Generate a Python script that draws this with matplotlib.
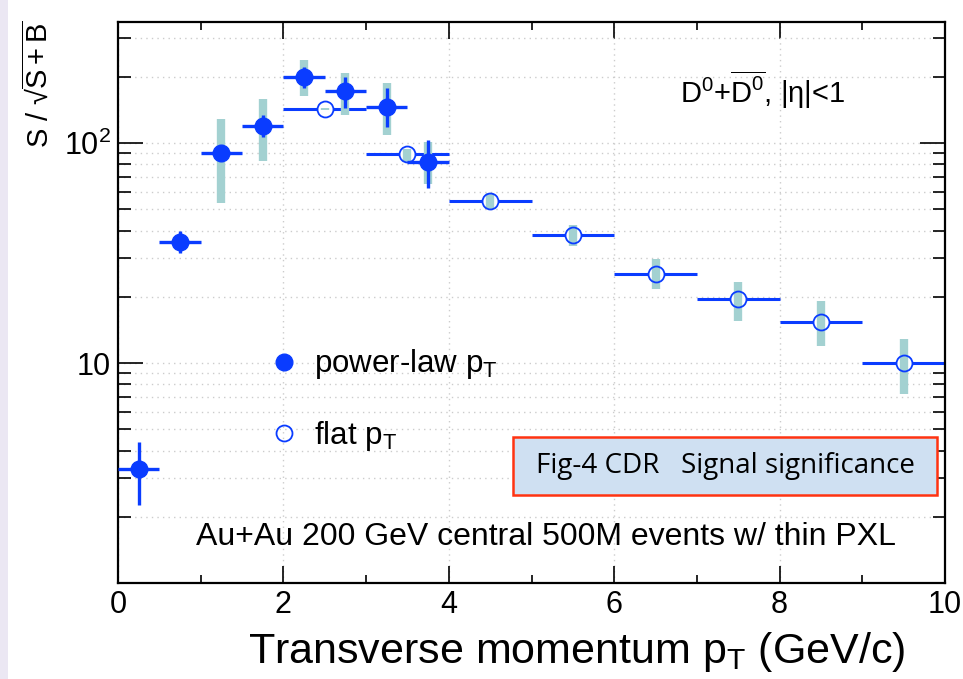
import matplotlib
matplotlib.use("Agg")
import matplotlib.pyplot as plt
import numpy as np
from matplotlib.patches import Rectangle
from matplotlib.ticker import FixedLocator, NullFormatter

plt.rcParams['font.family'] = ['Liberation Sans', 'DejaVu Sans']
plt.rcParams['mathtext.fontset'] = 'custom'
plt.rcParams['mathtext.rm'] = 'Liberation Sans'
plt.rcParams['mathtext.it'] = 'Liberation Sans:italic'
plt.rcParams['mathtext.bf'] = 'Liberation Sans:bold'

# ---------------- data ----------------
# power-law pT (filled)
pl_x = [0.25, 0.75, 1.25, 1.75, 2.25, 2.75, 3.25, 3.75]
pl_y = [3.3, 35.6, 89.8, 119.5, 200, 172, 146, 82.2]
pl_stat_lo = [2.26, 31.6, 84, 107, 177, 144, 118, 62.2]
pl_stat_hi = [4.39, 40.0, 95, 134, 222, 199, 177, 103]
pl_sys_lo = [np.nan, np.nan, 53.6, 83.2, 164, 134, 109, 65]
pl_sys_hi = [np.nan, np.nan, 128, 158, 238, 208, 188, 101]
pl_xerr = 0.25

# flat pT (open)
fl_x = [2.5, 3.5, 4.5, 5.5, 6.5, 7.5, 8.5, 9.5]
fl_y = [143, 89.4, 54.5, 38.3, 25.4, 19.5, 15.4, 10.0]
fl_sys_lo = [141, 82.2, 50.0, 34.1, 21.6, 15.5, 11.9, 7.2]
fl_sys_hi = [145, 94.0, 59.5, 42.4, 29.6, 23.3, 19.1, 12.9]
fl_xerr = 0.5

x_ticks = [0, 2, 4, 6, 8, 10]
x_tick_labels = ['0', '2', '4', '6', '8', '10']
y_ticks = [10, 100]
y_tick_labels = ['10', '$10^{2}$']

BLUE = '#0a3cff'
TEAL = '#a3d1d1'

fig = plt.figure(figsize=(9.63, 6.79), dpi=100)
fig.patch.set_facecolor('white')
# light lavender strip at the left edge
fig.patches.append(Rectangle((0, 0), 8/963, 1, transform=fig.transFigure,
                             facecolor='#ebe7f3', edgecolor='none', zorder=0))

ax = fig.add_axes([118/963, 1-583/679, 827/963, 561/679])
ax.set_yscale('log')
ax.set_xlim(0, 10)
ax.set_ylim(1, 355)

ax.set_xticks(x_ticks)
ax.set_xticklabels(x_tick_labels)
ax.xaxis.set_minor_locator(FixedLocator([1, 3, 5, 7, 9]))
ax.set_yticks(y_ticks)
ax.set_yticklabels(y_tick_labels)
ax.yaxis.set_minor_locator(FixedLocator([2, 3, 4, 5, 6, 7, 8, 9, 20, 30, 40, 50, 60, 70, 80, 90, 200, 300]))
ax.yaxis.set_minor_formatter(NullFormatter())
ax.grid(True, which='major', axis='x', color='#cccccc', linestyle=(0, (1, 3)), linewidth=1)
ax.grid(True, which='both', axis='y', color='#cccccc', linestyle=(0, (1, 3)), linewidth=1)
ax.set_axisbelow(True)

ax.tick_params(which='both', direction='in', top=True, right=True, colors='black', width=1.2)
ax.tick_params(axis='x', which='major', length=12, labelsize=22, pad=5)
ax.tick_params(axis='x', which='minor', length=6)
ax.tick_params(axis='y', which='major', length=18, labelsize=22, pad=5)
ax.tick_params(axis='y', which='minor', length=9)
for s in ax.spines.values():
    s.set_linewidth(1.6)

# ---- flat pT (open circles) ----
fl_y_a = np.array(fl_y)
ax.errorbar(fl_x, fl_y, xerr=fl_xerr, fmt='none', ecolor=BLUE, elinewidth=2.2,
            capsize=0, zorder=2)
ax.plot(fl_x, fl_y, 'o', ms=11.5, mfc='white', mec='none', zorder=3)
ax.errorbar(fl_x, fl_y, yerr=[fl_y_a - np.array(fl_sys_lo), np.array(fl_sys_hi) - fl_y_a],
            fmt='none', ecolor=TEAL, elinewidth=6, capsize=0, zorder=4)
h_flat, = ax.plot(fl_x, fl_y, 'o', ms=11.5, mfc='none', mec=BLUE, mew=1.3, zorder=5)

# ---- power-law pT (filled) ----
pl_y_a = np.array(pl_y)
ax.errorbar(pl_x, pl_y, yerr=[pl_y_a - np.array(pl_sys_lo), np.array(pl_sys_hi) - pl_y_a],
            fmt='none', ecolor=TEAL, elinewidth=6, capsize=0, zorder=6)
ax.errorbar(pl_x, pl_y, xerr=pl_xerr,
            yerr=[pl_y_a - np.array(pl_stat_lo), np.array(pl_stat_hi) - pl_y_a],
            fmt='none', ecolor=BLUE, elinewidth=2.4, capsize=0, zorder=7)
h_pl, = ax.plot(pl_x, pl_y, 'o', ms=12, mfc=BLUE, mec=BLUE, zorder=8)

# legend
leg = ax.legend([h_pl, h_flat], ['power-law p$_\\mathrm{T}$', 'flat p$_\\mathrm{T}$'],
                loc='upper left', bbox_to_anchor=(0.148, 0.47), frameon=False,
                fontsize=22.5, handlelength=1.0, handletextpad=0.45, labelspacing=1.2,
                numpoints=1)

# labels
ax.set_ylabel('S / √$\\overline{\\mathrm{S+B}}$', fontsize=21, loc='top')
ax.yaxis.set_label_coords(-0.078, 1.003)
ax.set_xlabel('Transverse momentum p$_\\mathrm{T}$ (GeV/c)', fontsize=31, loc='right')
ax.xaxis.set_label_coords(0.952, -0.083)

ax.text(0.779, 0.879, '$\\mathrm{D^0}$+$\\overline{\\mathrm{D^0}}$, |η|<1', transform=ax.transAxes,
        fontsize=21, ha='center', va='center')
ax.text(0.5175, 0.082, 'Au+Au 200 GeV central 500M events w/ thin PXL', transform=ax.transAxes,
        fontsize=23, ha='center', va='center')

# annotation box
fig.patches.append(Rectangle((513/963, 1-495/679), (937-513)/963, (495-437)/679,
                             transform=fig.transFigure, facecolor='#cfe0f2',
                             edgecolor='#ff3311', linewidth=1.8, zorder=10))
fig.text((513+937)/2/963, 1-466/679, 'Fig-4 CDR   Signal significance', fontsize=20,
         family=['Open Sans', 'DejaVu Sans'], ha='center', va='center', zorder=11)

fig.savefig('out.png', dpi=100)
